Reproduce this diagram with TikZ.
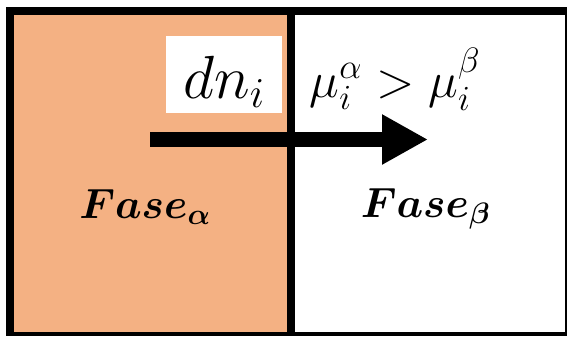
\RequirePackage{fix-cm}
\documentclass[tikz,border=0pt]{standalone}
\usepackage{amsmath,amssymb}
\usepackage{bm}
\usepackage{tikz}
\usetikzlibrary{arrows.meta,positioning}
\definecolor{fasefill}{HTML}{F4B183}
\definecolor{edge}{HTML}{000000}

\begin{document}
\begin{tikzpicture}[x=0.03cm, y=-0.03cm, every node/.style={align=center, inner sep=0pt},
  wall/.style={draw=edge, line width=0.24cm},
  flux/.style={edge, line width=0.45cm, -{Triangle[length=1.38cm 0 0, width=1.41cm 0 0]}}]
\useasboundingbox (0,0) rectangle (567,336);
% the two phases (the frame runs past the right and bottom edges)
\fill[fasefill] (10,11) rectangle (291,332);
\draw[wall] (6,11) -- (567,11);
\draw[wall] (10,7) -- (10,336);
\draw[wall] (291,7) -- (291,332);
\fill[edge] (6,332) rectangle (567,336);
\fill[edge] (565,7) rectangle (567,336);
\node[anchor=base, font=\fontsize{36}{40}\selectfont] (lblA) at (145, 218) {$\bm{Fase_\alpha}$};
\node[anchor=base, font=\fontsize{36}{40}\selectfont] (lblB) at (425.5, 217) {$\bm{Fase_\beta}$};
\node[anchor=base, fill=white, minimum width=3.48cm, text height=1.86cm, text depth=0.45cm, font=\fontsize{52}{56}\selectfont] (dn) at (224, 98) {$dn_i$};
\node[anchor=base, font=\fontsize{43}{47}\selectfont] (mu) at (395, 97) {$\mu_i^\alpha > \mu_i^\beta$};
\coordinate (src) at (150, 139.5);
\coordinate (dst) at (428, 139.5);
\draw[flux] (src) -- (dst);
\end{tikzpicture}
\end{document}
